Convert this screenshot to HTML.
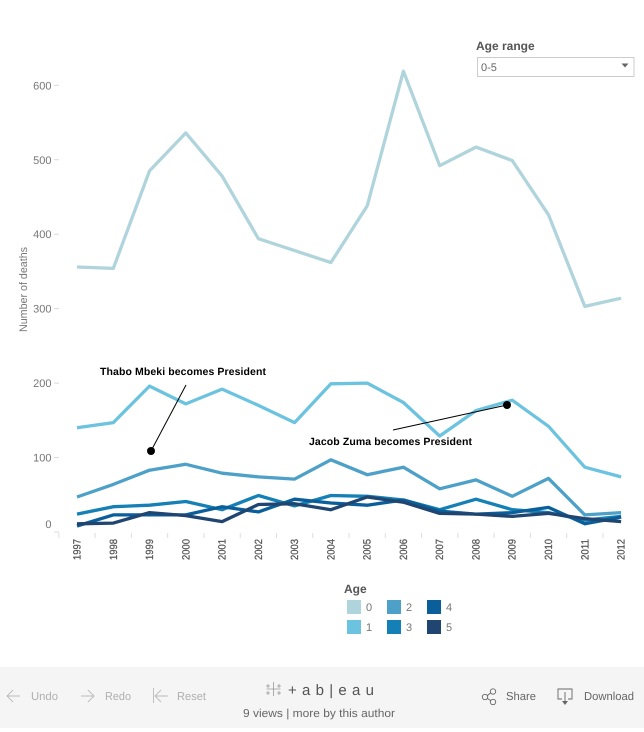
<!DOCTYPE html>
<html>
<head>
<meta charset="utf-8">
<style>
html,body{margin:0;padding:0;background:#fff;width:644px;height:732px;overflow:hidden}
svg{display:block;font-family:"Liberation Sans",Arial,sans-serif;text-rendering:geometricPrecision}
</style>
</head>
<body>
<svg id="chart" width="644" height="732" viewBox="0 0 644 732" xmlns="http://www.w3.org/2000/svg">
  <g id="y-axis"></g>
  <g id="x-axis"></g>
  <text transform="translate(27,332) rotate(-90)" font-size="11" fill="#777" textLength="85" lengthAdjust="spacingAndGlyphs">Number of deaths</text>
  <g id="series"></g>

  <g>
    <line x1="186" y1="385" x2="151" y2="451" stroke="#000" stroke-width="1"/>
    <circle cx="151" cy="451" r="4" fill="#000"/>
    <text x="100" y="375" font-size="10.5" font-weight="bold" fill="#000" textLength="166" lengthAdjust="spacing">Thabo Mbeki becomes President</text>
  </g>
  <g>
    <line x1="393" y1="430" x2="507" y2="405" stroke="#000" stroke-width="1"/>
    <circle cx="507" cy="405" r="4" fill="#000"/>
    <text x="309" y="445" font-size="10.5" font-weight="bold" fill="#000" textLength="163" lengthAdjust="spacing">Jacob Zuma becomes President</text>
  </g>

  <g>
    <text x="476" y="50" font-size="12" font-weight="bold" fill="#555">Age range</text>
    <rect x="477.5" y="57.5" width="156.500" height="19" fill="#fff" stroke="#ccc"/>
    <text x="481" y="71" font-size="11" fill="#666">0-5</text>
    <path d="M621.500 63.500h7l-3.500 4z" fill="#666"/>
  </g>

  <g id="legend">
    <text x="344" y="593" font-size="12" font-weight="bold" fill="#555">Age</text>
  </g>

  <g>
    <rect x="0" y="667" width="644" height="61" fill="#f5f5f5"/>
    <g fill="none" stroke="#bbb" stroke-width="0.9">
      <path d="M20 696H7M13 690l-6 6 6 6"/>
      <text x="31" y="700" font-size="11.500" fill="#b0b0b0" stroke="none" textLength="27" lengthAdjust="spacingAndGlyphs">Undo</text>
    </g>
    <g fill="none" stroke="#bbb" stroke-width="0.9">
      <path d="M81 696h13M88 690l6 6-6 6"/>
      <text x="105" y="700" font-size="11.500" fill="#b0b0b0" stroke="none" textLength="26" lengthAdjust="spacingAndGlyphs">Redo</text>
    </g>
    <g fill="none" stroke="#bbb" stroke-width="0.9">
      <path d="M153.500 688v15M168 696h-13M161 690l-6 6 6 6"/>
      <text x="177" y="700" font-size="11.500" fill="#b0b0b0" stroke="none" textLength="29" lengthAdjust="spacingAndGlyphs">Reset</text>
    </g>
    <g>
      <path d="M273.500 682v14M266.500 689h14M268 684v4M266 686h4M279 684v4M277 686h4M268 691v4M266 693h4M279 691v4M277 693h4" stroke="#999" stroke-width="0.8" fill="none"/>
      <text x="288" y="695" font-size="15" fill="#555" textLength="86" lengthAdjust="spacing">+ a b | e a u</text>
    </g>
    <text x="243" y="717" font-size="11.500" fill="#666" textLength="152" lengthAdjust="spacingAndGlyphs">9 views  |  more by this author</text>
    <g fill="none" stroke="#666" stroke-width="0.9">
      <circle cx="485" cy="697" r="2.700"/>
      <circle cx="493" cy="691.500" r="2.700"/>
      <circle cx="493" cy="702" r="2.700"/>
      <path d="M487.500 695.500l3-2.500M487.500 698.500l3 2"/>
      <text x="506" y="700" font-size="11.500" fill="#666" stroke="none" textLength="30" lengthAdjust="spacingAndGlyphs">Share</text>
    </g>
    <g fill="none" stroke="#666" stroke-width="0.9">
      <path d="M562 699h-4v-10h14v10h-4"/>
      <path d="M565 692v10"/>
      <path d="M562 701h6l-3 4z" fill="#666" stroke="none"/>
      <text x="584" y="700" font-size="11.500" fill="#666" stroke="none" textLength="50" lengthAdjust="spacingAndGlyphs">Download</text>
    </g>
  </g>
</svg>
<script>
const years = ["1997","1998","1999","2000","2001","2002","2003","2004","2005","2006","2007","2008","2009","2010","2011","2012"];
const yTicks = [0,100,200,300,400,500,600];
const ageLabels = ["0","1","2","3","4","5"];
const ageColors = ["#b0d4dc","#6cc3e0","#4da0c8","#1580b5","#0a5f9b","#1f4570"];
const age0 = [356,354,485,536,478,394,378,362,438,619,492,517,499,426,303,314];
const age1 = [140,147,196,172,192,170,147,199,200,174,129,163,177,142,87,74];
const age2 = [47,64,83,91,79,74,71,97,77,87,58,70,48,72,23,26];
const age3 = [24,34,36,41,30,49,35,49,48,43,30,44,30,26,16,21];
const age4 = [8,23,23,23,34,27,44,39,36,43,28,24,26,33,11,20];
const age5 = [11,12,26,22,14,37,38,30,47,40,25,24,21,25,18,14];
const allSeries = [age0,age1,age2,age3,age4,age5];

const NS = "http://www.w3.org/2000/svg";
function xPos(i){ return 77 + i * 36.27; }
function yPos(v){ return 532 - v * 0.7445; }
function mk(tag, attrs, parent, txt){
  const el = document.createElementNS(NS, tag);
  for (const k in attrs) el.setAttribute(k, attrs[k]);
  if (txt !== undefined) el.textContent = txt;
  parent.appendChild(el);
  return el;
}

const yAxis = document.getElementById('y-axis');
yTicks.forEach(function(t){
  const y = yPos(t);
  const tick = mk('line', {x1:54, x2:59, y1:y, y2:y, stroke:'#d8d8d8', 'stroke-width':1}, yAxis);
  
  
  const labelY = t === 0 ? y - 4 : y + 4;
  const label = mk('text', {x:51.5, y:labelY, 'text-anchor':'end', 'font-size':11, fill:'#777'}, yAxis, String(t));
  
  
});

const xAxis = document.getElementById('x-axis');
years.forEach(function(yr, i){
  const x = xPos(i);
  const tx = x - 18.13;
  const tick = mk('line', {x1:tx, x2:tx, y1:533, y2:538, stroke:'#ddd', 'stroke-width':1}, xAxis);
  
  
  const label = mk('text', {transform:'translate(' + (x + 3.5) + ',539) rotate(-90)', 'text-anchor':'end', 'font-size':10.5, fill:'#555', stroke:'#555', 'stroke-width':0.25, textLength:21, lengthAdjust:'spacingAndGlyphs'}, xAxis, yr);
  
  
});

const seriesG = document.getElementById('series');
allSeries.forEach(function(vals, s){
  const pts = vals.map(function(v, i){ return xPos(i).toFixed(1) + ',' + yPos(v).toFixed(1); }).join(' ');
  const line = mk('polyline', {points:pts, fill:'none', stroke:ageColors[s], 'stroke-width':3.3, 'stroke-linejoin':'round'}, seriesG);
  
  
});

const legend = document.getElementById('legend');
ageLabels.forEach(function(a, i){
  const col = Math.floor(i / 2);
  const row = i % 2;
  const sx = 347 + col * 40;
  const sy = 600 + row * 20;
  const sw = mk('rect', {x:sx, y:sy, width:14, height:14, fill:ageColors[i]}, legend);
  
  
  const lb = mk('text', {x:sx + 19, y:sy + 11, 'font-size':11, fill:'#777'}, legend, a);
  
  
});
</script>
</body>
</html>
